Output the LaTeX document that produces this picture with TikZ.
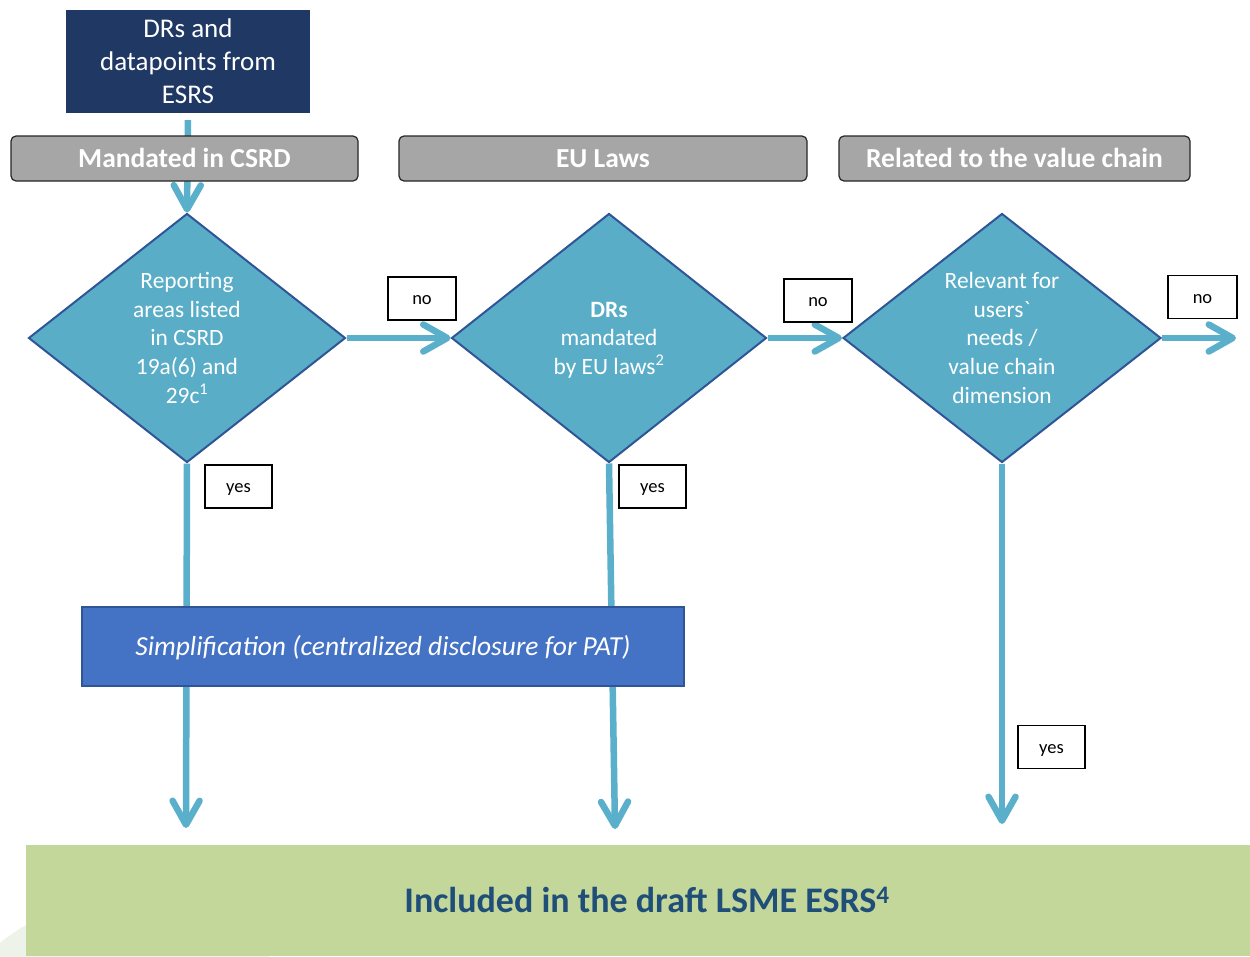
\documentclass[tikz,border=0pt]{standalone}
\usepackage{fontspec}
\setmainfont{Carlito}[Ligatures=TeXOff]
\usepackage{xcolor}
\usetikzlibrary{shapes.geometric,arrows.meta,backgrounds}
\definecolor{navybox}{HTML}{1F3864}
\definecolor{headgray}{HTML}{A6A6A6}
\definecolor{flowblue}{HTML}{5AAFCA}
\definecolor{diafill}{HTML}{59ADC7}
\definecolor{diaedge}{HTML}{2F5597}
\definecolor{simpblue}{HTML}{4472C4}
\definecolor{lsmegreen}{HTML}{C4D79B}
\definecolor{lsmetext}{HTML}{1F4E79}
\definecolor{paleround}{HTML}{EEF3EA}
\newcommand{\linestrut}{\rule[-0.269em]{0pt}{1.221em}}

\begin{document}
\begin{tikzpicture}[x=1pt,y=-1pt,
    header/.style={draw=black!85, line width=1.2pt, rounded corners=5pt, fill=headgray, text=white, minimum height=45pt, inner sep=0pt, font=\fontsize{27.5}{33.6}\selectfont\bfseries},
    decision/.style={diamond, aspect=1.27, draw=diaedge, line width=2pt, fill=diafill, text=white, minimum width=317pt, minimum height=249pt, inner sep=0pt, align=center, font=\fontsize{23.4}{28.6}\selectfont},
    answer/.style={draw=black, line width=1.8pt, fill=white, minimum width=67pt, minimum height=43pt, inner sep=0pt, font=\fontsize{18.5}{22.6}\selectfont},
    flow/.style={draw=flowblue, line width=6.5pt, -{Straight Barb[length=24pt,width=27pt,round]}}]
                \useasboundingbox (0,0) rectangle (1250,956);
                \begin{scope}
                \clip (0,0) rectangle (1250,956);
                \fill[paleround] (127,1100) circle (202pt);
                \end{scope}
                \node[fill=navybox, text=white, minimum width=244pt, minimum height=103pt, inner sep=0pt, align=center, font=\fontsize{27}{33}\selectfont] (esrs) at (188,61.5) {\linestrut DRs and\\datapoints from\\ESRS\linestrut};
                \node[header, minimum width=347pt] (csrd) at (184.5,158.5) {\linestrut Mandated in CSRD};
                \node[header, minimum width=408pt] (eulaws) at (603,158.5) {\linestrut EU Laws};
                \node[header, minimum width=351pt] (chain) at (1014.5,158.5) {\linestrut Related to the value chain};
                \node[decision] (areas) at (187,338) {\linestrut Reporting\\areas listed\\in CSRD\\19a(6) and\\29c\textsuperscript{1}\linestrut};
                \node[decision, minimum width=315pt] (mandated) at (609,338) {\linestrut\textbf{DRs}\\mandated\\by EU laws\textsuperscript{2}\linestrut};
                \node[decision, minimum width=318pt] (relevant) at (1002,338) {\linestrut Relevant for\\users`\\needs /\\value chain\\dimension\linestrut};
                \node[answer, minimum width=68pt] (no1) at (422,298.5) {\linestrut no};
                \node[answer, minimum width=68pt] (no2) at (818,300.5) {\linestrut no};
                \node[answer, minimum width=69pt] (no3) at (1202.5,297) {\linestrut no};
                \node[answer] (yes1) at (238.5,486.5) {\linestrut yes};
                \node[answer] (yes2) at (652.5,486.5) {\linestrut yes};
                \node[answer] (yes3) at (1051.5,747) {\linestrut yes};
                \node[draw=diaedge, line width=2pt, fill=simpblue, text=white, minimum width=602pt, minimum height=79pt, inner sep=0pt, font=\fontsize{27.5}{33.6}\selectfont\itshape] (simp) at (383,646.5) {\linestrut Simplification (centralized disclosure for PAT)};
                \node[fill=lsmegreen, minimum width=1224pt, minimum height=111pt, inner sep=0pt, text=lsmetext, font=\fontsize{36}{44}\selectfont\bfseries] (lsme) at (638,900.5) {\hspace*{18pt}\linestrut Included in the draft LSME ESRS\textsuperscript{4}};
                \coordinate (noout) at (1236,338);
                \coordinate (end1) at (186,828);
                \coordinate (end2) at (615,829);
                \coordinate (end3) at (1002,824);
                \begin{scope}[on background layer]
                \draw[flow, shorten <=7pt] (esrs.south) -- (areas.north);
                \draw[flow] (areas.east) -- (mandated.west);
                \draw[flow] (mandated.east) -- (relevant.west);
                \draw[flow] (relevant.east) -- (noout);
                \draw[flow] (areas.south) -- (end1);
                \draw[flow] (mandated.south) -- (end2);
                \draw[flow] (relevant.south) -- (end3);
                \end{scope}
            \end{tikzpicture}
\end{document}
